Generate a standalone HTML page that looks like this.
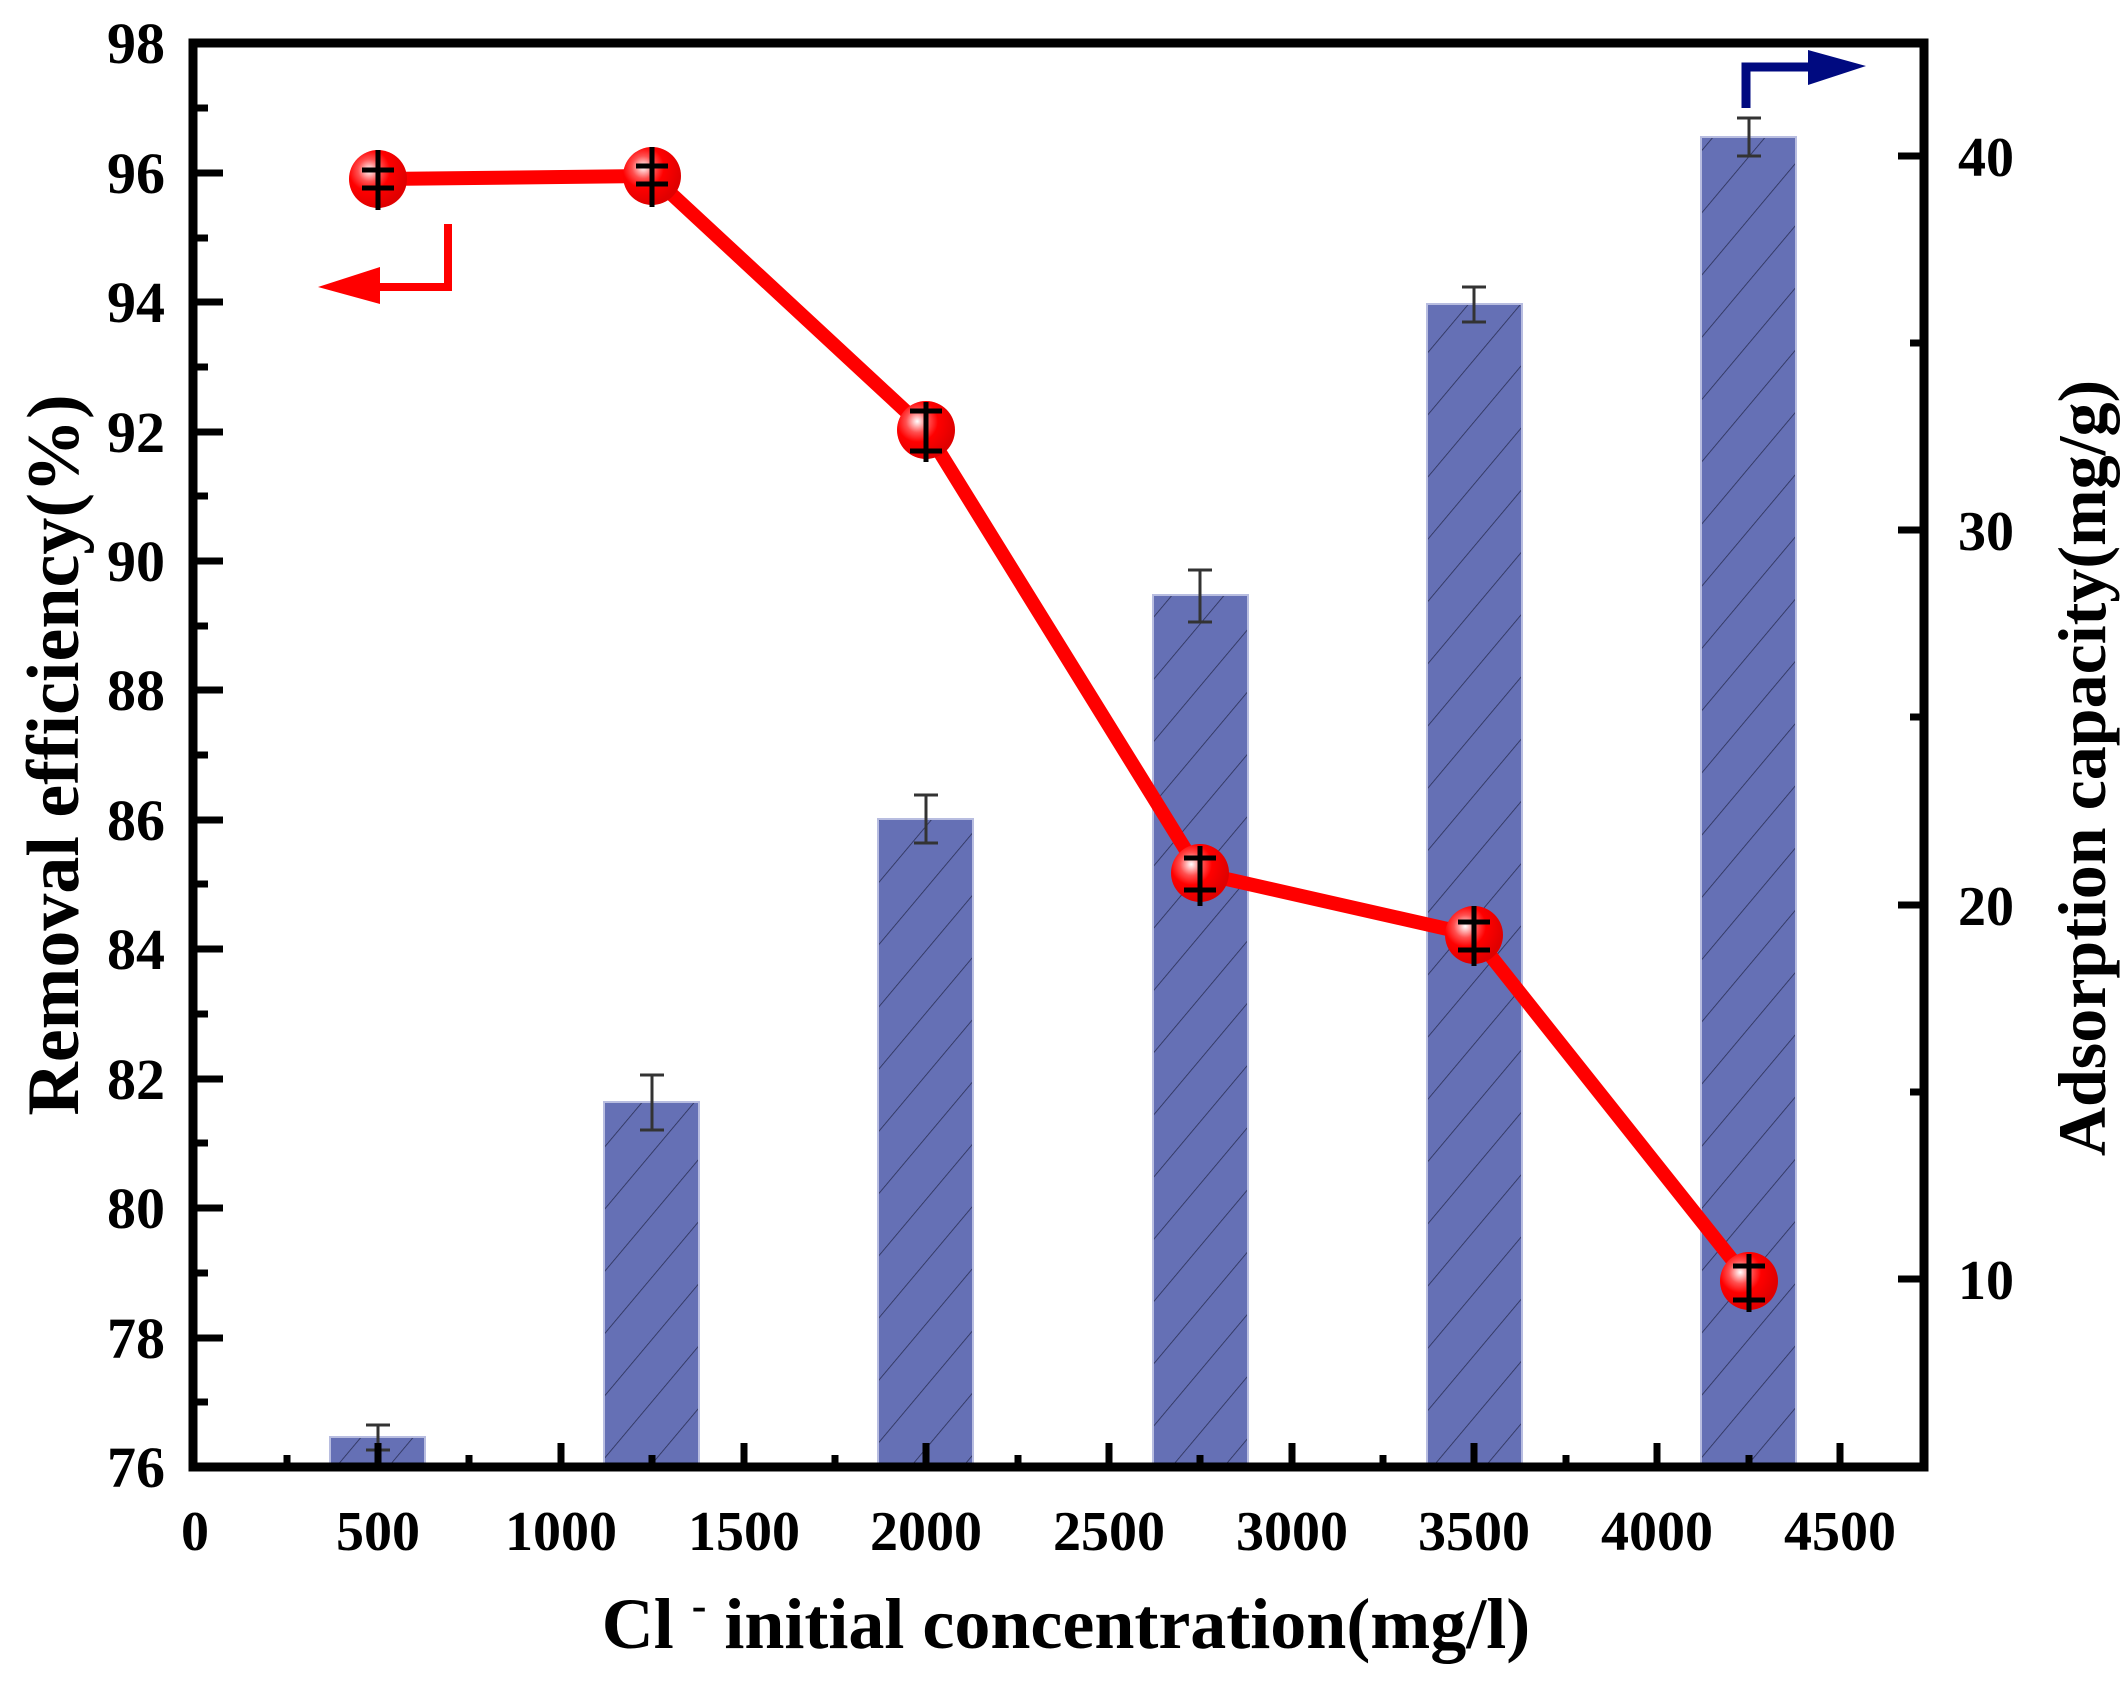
<!DOCTYPE html>
<html><head><meta charset="utf-8"><style>
html,body{margin:0;padding:0;background:#fff;}
svg text{font-family:"Liberation Serif",serif;font-weight:bold;fill:#000;}
</style></head><body>
<svg width="2125" height="1680" viewBox="0 0 2125 1680" xmlns="http://www.w3.org/2000/svg">
<defs>
<pattern id="hatch" patternUnits="userSpaceOnUse" width="40" height="40" patternTransform="rotate(40)">
<rect width="40" height="40" fill="#6570b5"/>
<line x1="0" y1="0" x2="0" y2="40" stroke="#2a2f55" stroke-width="1.6"/>
</pattern>
<radialGradient id="ball" cx="0.35" cy="0.35" r="0.65">
<stop offset="0" stop-color="#fff"/>
<stop offset="0.3" stop-color="#ff5050"/>
<stop offset="0.55" stop-color="#ff0000"/>
<stop offset="1" stop-color="#e00000"/>
</radialGradient>
</defs>

<g stroke="#b8bde0" stroke-width="2" fill="url(#hatch)">
<rect x="330" y="1437" width="95" height="30"/>
<rect x="604" y="1102" width="95" height="365"/>
<rect x="878" y="819" width="95" height="648"/>
<rect x="1153" y="595" width="95" height="872"/>
<rect x="1427" y="304" width="95" height="1163"/>
<rect x="1701" y="137" width="95" height="1330"/>
</g>
<g stroke="#333" stroke-width="3">
<line x1="378" y1="1425" x2="378" y2="1450"/><line x1="366" y1="1425" x2="390" y2="1425"/><line x1="366" y1="1450" x2="390" y2="1450"/>
<line x1="652" y1="1075" x2="652" y2="1130"/><line x1="640" y1="1075" x2="664" y2="1075"/><line x1="640" y1="1130" x2="664" y2="1130"/>
<line x1="926" y1="795" x2="926" y2="843"/><line x1="914" y1="795" x2="938" y2="795"/><line x1="914" y1="843" x2="938" y2="843"/>
<line x1="1200" y1="570" x2="1200" y2="622"/><line x1="1188" y1="570" x2="1212" y2="570"/><line x1="1188" y1="622" x2="1212" y2="622"/>
<line x1="1474" y1="287" x2="1474" y2="322"/><line x1="1462" y1="287" x2="1486" y2="287"/><line x1="1462" y1="322" x2="1486" y2="322"/>
<line x1="1749" y1="118" x2="1749" y2="156"/><line x1="1737" y1="118" x2="1761" y2="118"/><line x1="1737" y1="156" x2="1761" y2="156"/>
</g>

<polyline points="378,179 652,176 926,430 1200,873 1474,935 1749,1281" fill="none" stroke="#ff0000" stroke-width="14" stroke-linejoin="round"/>
<g fill="url(#ball)">
<circle cx="378" cy="179" r="29"/><circle cx="652" cy="176" r="29"/><circle cx="926" cy="430" r="29"/>
<circle cx="1200" cy="873" r="29"/><circle cx="1474" cy="935" r="29"/><circle cx="1749" cy="1281" r="29"/>
</g>
<g stroke="#000" stroke-width="5">
<path d="M378,150V210M362,170H394M362,188H394"/>
<path d="M652,147V207M636,166H668M636,184H668"/>
<path d="M926,402V462M910,411H942M910,451H942"/>
<path d="M1200,846V906M1184,858H1216M1184,890H1216"/>
<path d="M1474,906V966M1458,922H1490M1458,950H1490"/>
<path d="M1749,1254V1312M1733,1266H1765M1733,1300H1765"/>
</g>

<path d="M448,224V287H378" fill="none" stroke="#ff0000" stroke-width="8"/>
<polygon points="318,287 380,267 380,304" fill="#ff0000"/>
<path d="M1746,108V67H1810" fill="none" stroke="#000a80" stroke-width="9"/>
<polygon points="1866,66 1808,50 1808,85" fill="#000a80"/>

<rect x="193" y="43" width="1731" height="1424" fill="none" stroke="#000" stroke-width="9"/>

<g stroke="#000" stroke-width="7">
<path d="M193,173h30M193,302h30M193,432h30M193,561h30M193,690h30M193,820h30M193,949h30M193,1079h30M193,1208h30M193,1338h30"/>
<path d="M193,108h15M193,238h15M193,367h15M193,496h15M193,626h15M193,755h15M193,884h15M193,1014h15M193,1143h15M193,1273h15M193,1402h15"/>
<path d="M378,1467v-24M561,1467v-24M744,1467v-24M926,1467v-24M1109,1467v-24M1292,1467v-24M1474,1467v-24M1657,1467v-24M1840,1467v-24"/>
<path d="M287,1467v-12M469,1467v-12M652,1467v-12M835,1467v-12M1018,1467v-12M1200,1467v-12M1383,1467v-12M1566,1467v-12M1749,1467v-12"/>
<path d="M1924,1279h-26M1924,905h-26M1924,530h-26M1924,156h-26"/>
<path d="M1924,1466h-14M1924,1092h-14M1924,717h-14M1924,343h-14"/>
</g>

<g font-size="58" text-anchor="end">
<text x="165" y="63">98</text><text x="165" y="193">96</text><text x="165" y="322">94</text>
<text x="165" y="452">92</text><text x="165" y="581">90</text><text x="165" y="710">88</text>
<text x="165" y="840">86</text><text x="165" y="969">84</text><text x="165" y="1099">82</text>
<text x="165" y="1228">80</text><text x="165" y="1358">78</text><text x="165" y="1487">76</text>
</g>
<g font-size="56" text-anchor="middle">
<text x="195" y="1550">0</text><text x="378" y="1550">500</text><text x="561" y="1550">1000</text>
<text x="744" y="1550">1500</text><text x="926" y="1550">2000</text><text x="1109" y="1550">2500</text>
<text x="1292" y="1550">3000</text><text x="1474" y="1550">3500</text><text x="1657" y="1550">4000</text>
<text x="1840" y="1550">4500</text>
</g>
<g font-size="56">
<text x="1958" y="1299">10</text><text x="1958" y="925">20</text><text x="1958" y="550">30</text><text x="1958" y="176">40</text>
</g>
<text x="1066" y="1648" font-size="72" text-anchor="middle">Cl <tspan font-size="44" dy="-28">-</tspan><tspan dy="28"> initial concentration(mg/l)</tspan></text>
<text transform="translate(78,755) rotate(-90)" font-size="74" text-anchor="middle">Removal efficiency(%)</text>
<text transform="translate(2105,768) rotate(-90)" font-size="68" text-anchor="middle">Adsorption capacity(mg/g)</text>
</svg>
</body></html>
